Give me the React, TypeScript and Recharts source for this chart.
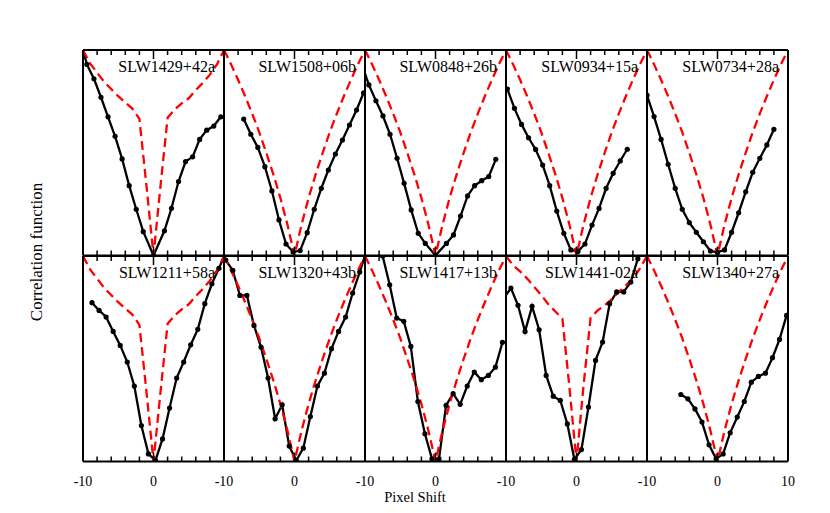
import React from 'react';
import { LineChart, Line, XAxis, YAxis } from 'recharts';

// panel titles, left to right, top row then bottom row
const panelNames = [
  'SLW1429+42a', 'SLW1508+06b', 'SLW0848+26b', 'SLW0934+15a', 'SLW0734+28a',
  'SLW1211+58a', 'SLW1320+43b', 'SLW1417+13b', 'SLW1441-02a', 'SLW1340+27a',
];

const xTicks = [-10, -8, -6, -4, -2, 0, 2, 4, 6, 8, 10];

// red dashed template curves, one value per integer shift
const templateShift = [-10, -9, -8, -7, -6, -5, -4, -3, -2, -1, 0, 1, 2, 3, 4, 5, 6, 7, 8, 9, 10];
const templateWing = [1.0, 0.935, 0.89, 0.845, 0.81, 0.775, 0.745, 0.715, 0.665, 0.34, 0, 0.34, 0.67, 0.71, 0.74, 0.765, 0.805, 0.84, 0.88, 0.93, 1.0];
const templateWide = [1.0, 0.955, 0.925, 0.89, 0.85, 0.81, 0.765, 0.73, 0.695, 0.36, 0, 0.37, 0.7, 0.735, 0.76, 0.79, 0.825, 0.857, 0.89, 0.94, 1.0];
const templateV = [1.0, 0.93, 0.855, 0.775, 0.69, 0.6, 0.5, 0.395, 0.28, 0.15, 0, 0.15, 0.28, 0.395, 0.5, 0.6, 0.69, 0.775, 0.855, 0.93, 1.0];

// black measured correlation curves
const shift1 = [-10.45, -9.45, -8.45, -7.45, -6.45, -5.45, -4.45, -3.45, -2.45, -1.45, 0, 1.55, 2.55, 3.55, 4.55, 5.55, 6.55, 7.55, 8.55, 9.55];
const corr1 = [1.06, 0.93, 0.86, 0.77, 0.675, 0.58, 0.47, 0.34, 0.225, 0.116, 0, 0.12, 0.23, 0.36, 0.457, 0.48, 0.565, 0.61, 0.63, 0.675];

const shift2 = [-7.2, -6.2, -5.2, -4.2, -3.2, -2.2, -1.2, -0.2, 0.8, 1.8, 2.8, 3.8, 4.8, 5.8, 6.8, 7.8, 8.8, 9.8];
const corr2 = [0.664, 0.59, 0.526, 0.432, 0.314, 0.173, 0.056, 0.017, 0.024, 0.111, 0.225, 0.327, 0.416, 0.494, 0.562, 0.635, 0.708, 0.792];

const shift3 = [-10.45, -9.45, -8.45, -7.45, -6.45, -5.45, -4.45, -3.45, -2.45, -1.45, 0, 1.55, 2.55, 3.55, 4.55, 5.55, 6.55, 7.55, 8.55];
const corr3 = [0.93, 0.83, 0.753, 0.679, 0.59, 0.473, 0.351, 0.222, 0.108, 0.059, 0, 0.059, 0.1, 0.192, 0.29, 0.34, 0.364, 0.384, 0.468];

const shift4 = [-9.8, -8.8, -7.8, -6.8, -5.8, -4.8, -3.8, -2.8, -1.8, -0.8, 0.2, 1.2, 2.2, 3.2, 4.2, 5.2, 6.2, 7.2];
const corr4 = [0.81, 0.716, 0.638, 0.573, 0.516, 0.44, 0.34, 0.216, 0.108, 0.027, 0.019, 0.056, 0.148, 0.229, 0.327, 0.4, 0.46, 0.517];

const shift5 = [-10, -9, -8, -7, -6, -5, -4, -3, -2, -1, 0, 1, 2, 3, 4, 5, 6, 7, 8];
const corr5 = [0.78, 0.676, 0.565, 0.444, 0.327, 0.225, 0.16, 0.113, 0.067, 0.022, 0.015, 0.027, 0.113, 0.208, 0.31, 0.405, 0.473, 0.538, 0.614];

const shift6 = [-8.72, -7.72, -6.72, -5.72, -4.72, -3.72, -2.72, -1.72, -0.72, 0.28, 1.28, 2.28, 3.28, 4.28, 5.28, 6.28, 7.28, 8.28, 9.28, 10.28];
const corr6 = [0.773, 0.735, 0.703, 0.633, 0.565, 0.484, 0.367, 0.175, 0.037, 0.005, 0.11, 0.26, 0.406, 0.484, 0.568, 0.643, 0.768, 0.865, 0.94, 1.02];

const shift7 = [-9.75, -8.75, -7.75, -6.75, -5.75, -4.75, -3.75, -2.75, -1.75, -0.75, 0.25, 1.25, 2.25, 3.25, 4.25, 5.25, 6.25, 7.25, 8.25, 9.25, 10.25];
const corr7 = [0.98, 0.93, 0.808, 0.808, 0.662, 0.557, 0.406, 0.208, 0.276, 0.075, 0.005, 0.065, 0.219, 0.367, 0.43, 0.549, 0.633, 0.703, 0.82, 0.922, 1.03];

const shift8 = [-7.5, -6.5, -5.5, -4.5, -3.5, -2.5, -1.5, -0.5, 0.5, 1.5, 2.5, 3.5, 4.5, 5.5, 6.5, 7.5, 8.5, 9.5];
const corr8 = [1.0, 0.86, 0.698, 0.682, 0.56, 0.292, 0.135, 0.013, 0.013, 0.273, 0.33, 0.278, 0.367, 0.435, 0.398, 0.419, 0.459, 0.58];

const shift9 = [-10.3, -9.3, -8.3, -7.3, -6.3, -5.3, -4.3, -3.3, -2.3, -1.3, -0.3, 0.7, 1.7, 2.7, 3.7, 4.7, 5.7, 6.7, 7.7, 8.7, 9.7];
const corr9 = [0.795, 0.844, 0.76, 0.633, 0.755, 0.641, 0.419, 0.318, 0.297, 0.183, 0.01, 0.058, 0.265, 0.492, 0.581, 0.768, 0.825, 0.825, 0.873, 0.987, 1.12];

const shift10 = [-5.2, -4.2, -3.2, -2.2, -1.2, -0.2, 0.8, 1.8, 2.8, 3.8, 4.8, 5.8, 6.8, 7.8, 8.8, 9.8];
const corr10 = [0.326, 0.305, 0.256, 0.192, 0.081, 0.013, 0.037, 0.14, 0.216, 0.292, 0.386, 0.414, 0.43, 0.505, 0.594, 0.711];

const shifts = [shift1, shift2, shift3, shift4, shift5, shift6, shift7, shift8, shift9, shift10];
const corrs = [corr1, corr2, corr3, corr4, corr5, corr6, corr7, corr8, corr9, corr10];
const templates = [templateWing, templateV, templateV, templateV, templateV, templateWing, templateV, templateV, templateWide, templateV];

// layout
const W = 141;
const H = 205.5;
const X0 = 83;
const ROW_TOP = [50, 255.5];
const PAD = 12;
const PAD_B = 45;
const AX = 1; // axis band thickness
const FONT = '"Liberation Serif", "Times New Roman", serif';

const Panel = ({ idx }: { idx: number }) => {
  const row = Math.floor(idx / 5);
  const col = idx % 5;
  const black = shifts[idx].map((x, i) => ({ x, y: corrs[idx][i] }));
  const red = templateShift.map((x, i) => ({ x, y: templates[idx][i] }));

  const bottomTick = (props: any) => {
    const { x, y, payload } = props;
    const v = payload.value;
    const showLabel = row === 1 && (v === -10 || v === 0 || (v === 10 && col === 4));
    const len = v === 0 ? 9 : 5;
    return (
      <g key={`b${v}`}>
        {Math.abs(v) < 10 && <line x1={x} x2={x} y1={y} y2={y - len} stroke="#000" strokeWidth={1.5} />}
        {showLabel && (
          <text x={x} y={y + 24} textAnchor="middle" fontSize={14} fontFamily={FONT} fill="#000">
            {v}
          </text>
        )}
      </g>
    );
  };

  const topTick = (props: any) => {
    const { x, y, payload } = props;
    const v = payload.value;
    const len = v === 0 ? 9 : 5;
    return (
      <g key={`t${v}`}>
        {Math.abs(v) < 10 && <line x1={x} x2={x} y1={y} y2={y + len} stroke="#000" strokeWidth={1.5} />}
      </g>
    );
  };

  const renderDot = (props: any) => {
    const { cx, cy, payload, index } = props;
    if (payload.x < -10 || payload.x > 10 || payload.y > 1.001) return <g key={index} />;
    return <circle key={index} cx={cx} cy={cy} r={2.6} fill="#000" />;
  };

  const border = { stroke: '#000', strokeWidth: 2 };

  return (
    <div style={{ position: 'absolute', left: X0 + col * W - PAD, top: ROW_TOP[row] - PAD }}>
      <LineChart
        width={W + 2 * PAD}
        height={H + PAD + PAD_B}
        margin={{ top: PAD - AX, right: PAD - AX, bottom: PAD_B - AX, left: PAD - AX }}
      >
        <XAxis
          xAxisId="b"
          type="number"
          dataKey="x"
          domain={[-10, 10]}
          ticks={xTicks}
          interval={0}
          allowDataOverflow
          height={AX}
          tickSize={0}
          tickMargin={0}
          tickLine={false}
          axisLine={border}
          tick={bottomTick}
        />
        <XAxis
          xAxisId="t"
          orientation="top"
          type="number"
          dataKey="x"
          domain={[-10, 10]}
          ticks={xTicks}
          interval={0}
          allowDataOverflow
          height={AX}
          tickSize={0}
          tickMargin={0}
          tickLine={false}
          axisLine={border}
          tick={topTick}
        />
        <YAxis
          yAxisId="l"
          type="number"
          domain={[0, 1]}
          allowDataOverflow
          width={AX}
          tick={false}
          tickLine={false}
          axisLine={border}
        />
        <YAxis
          yAxisId="r"
          orientation="right"
          type="number"
          domain={[0, 1]}
          allowDataOverflow
          width={AX}
          tick={false}
          tickLine={false}
          axisLine={border}
        />
        <Line
          xAxisId="b"
          yAxisId="l"
          data={black}
          dataKey="y"
          type="linear"
          stroke="#000"
          strokeWidth={2.3}
          dot={renderDot}
          isAnimationActive={false}
        />
        <Line
          xAxisId="b"
          yAxisId="l"
          data={red}
          dataKey="y"
          type="linear"
          stroke="#ff0000"
          strokeWidth={2.3}
          strokeDasharray="9 5"
          dot={false}
          isAnimationActive={false}
        />
      </LineChart>
    </div>
  );
};

export default function App() {
  return (
    <div style={{ position: 'absolute', left: 0, top: 0, width: 830, height: 513, background: '#fff' }}>
      {panelNames.map((_, i) => (
        <Panel key={i} idx={i} />
      ))}
      <svg width={830} height={513} style={{ position: 'absolute', left: 0, top: 0, pointerEvents: 'none' }}>
        {panelNames.map((name, i) => {
          const row = Math.floor(i / 5);
          const col = i % 5;
          return (
            <text
              key={name}
              x={X0 + (col + 1) * W - 9}
              y={ROW_TOP[row] + 22}
              textAnchor="end"
              fontSize={16}
              fontFamily={FONT}
              fill="#000"
            >
              {name}
            </text>
          );
        })}
        <text x={415} y={502} textAnchor="middle" fontSize={14.5} fontFamily={FONT} fill="#000">
          Pixel Shift
        </text>
        <text
          transform="translate(42,252) rotate(-90)"
          textAnchor="middle"
          fontSize={17}
          fontFamily={FONT}
          fill="#000"
        >
          Correlation function
        </text>
      </svg>
    </div>
  );
}
